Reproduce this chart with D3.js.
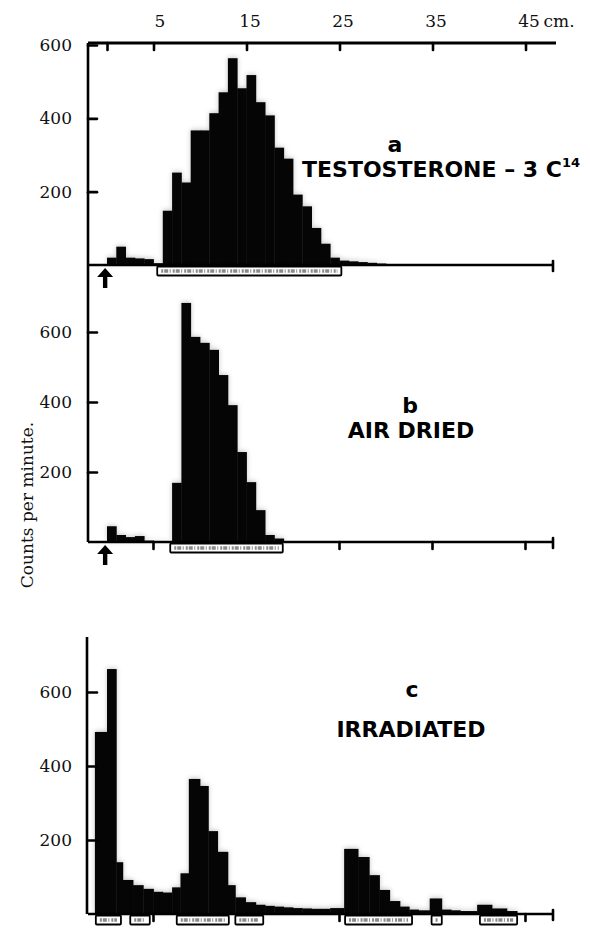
<!DOCTYPE html>
<html>
<head>
<meta charset="utf-8">
<script src="https://cdn.jsdelivr.net/npm/d3@7/dist/d3.min.js"></script>
<style>
  body { margin: 0; background: #fff; }
  svg { display: block; }
  .num { font-family: "DejaVu Serif", "Liberation Serif", serif; font-size: 17px; fill: #111; }
  .lbl { font-family: "DejaVu Sans", sans-serif; font-weight: bold; font-size: 22px; fill: #000; }
  .ax path { display: none; }
  .ax line { stroke: #000; stroke-width: 2.6; stroke-linecap: round; }
</style>
</head>
<body>
<svg id="vis" width="590" height="928"></svg>
<script>
"use strict";

// Data /////////////////////////////////////////////////////////////////////
var cmTicks = [0, 5, 15, 25, 35, 45];                 // distance along the strip, cm
var countTicks = [200, 400, 600];                     // counts per minute

// a: testosterone-3-C14, 1 cm sections
var aEdges  = [0,1,2,3,4,5,6,7,8,9,10,11,12,13,14,15,16,17,18,19,20,21,22,23,24,25,26,27,28,29,30];
var aCounts = [20,50,20,18,16,5,148,252,225,367,367,414,471,564,482,518,444,408,320,290,192,160,101,58,20,12,10,8,6,4];
var aStrips = [[5.4, 25.2]];

// b: air dried
var bEdges  = [0,1,2,3,4,5,6,7,8,9,10,11,12,13,14,15,16,17,18,19];
var bCounts = [45,20,14,17,4,2,2,169,683,586,569,549,477,391,257,171,91,20,10];
var bStrips = [[6.8, 18.9]];

// c: irradiated
var cEdges  = [-1.3,0,1,1.7,2.8,3.9,5,6,7,7.9,8.8,10,10.9,11.9,13,13.8,14.9,16,17,18,19,20,21,22,23,24,
               25.5,27,28.2,29.3,30.4,31.5,32.5,33.5,34.7,36,37,38,39.8,41.4,43,44.1];
var cCounts = [492,662,140,92,78,68,60,58,72,110,365,346,224,168,78,45,32,25,22,20,18,16,15,14,14,16,
               176,154,105,65,35,20,12,10,42,12,10,8,25,15,8];
var cStrips = [[-1.2,1.5],[2.5,4.6],[7.5,13.1],[13.8,16.8],[25.6,32.8],[34.9,36],[40.1,44.1]];

// Layout ////////////////////////////////////////////////////////////////////////////////////////
var vis = d3.select('#vis');
var x = d3.scaleLinear().domain([0, 45]).range([107, 525.5]);
var axisX = 88, rightEnd = 553, topY = 43;

// soft grey halo, like the halftone round the printed bars
vis.append('defs').append('filter').attr('id', 'halo').attr('x', '-10%').attr('y', '-10%')
  .attr('width', '120%').attr('height', '120%')
  .append('feGaussianBlur').attr('stdDeviation', 2.5);

var panels = [
  { edges: aEdges, counts: aCounts, strips: aStrips, base: 265, top600: 45,  arrow: true,  bottomTicks: false,
    letter: 'a', lx: 395, ly: 152 },
  { edges: bEdges, counts: bCounts, strips: bStrips, base: 542, top600: 332, arrow: true,  bottomTicks: true,
    letter: 'b', lx: 410, ly: 413, name: 'AIR DRIED', nx: 411, ny: 438 },
  { edges: cEdges, counts: cCounts, strips: cStrips, base: 914, top600: 692, arrow: false, bottomTicks: true,
    letter: 'c', lx: 412, ly: 697, name: 'IRRADIATED', nx: 411, ny: 737 }
];

// Top cm axis ///////////////////////////////////////////////////////////////////////////////////
vis.append('path').attr('d', 'M' + axisX + ',' + topY + 'H' + (rightEnd + 3))
  .attr('stroke', '#000').attr('stroke-width', 3);
var topAxis = vis.append('g').attr('class', 'ax').attr('transform', 'translate(0,' + topY + ')')
  .call(d3.axisTop(x).tickValues(cmTicks).tickSize(-7).tickPadding(16)
    .tickFormat(function(d) { return d === 0 ? '' : d }));
topAxis.selectAll('text').attr('class', 'num').attr('font-size', null).attr('font-family', null)
  .attr('dx', function(d) { return d === 5 ? 6 : 3 });
vis.append('text').attr('class', 'num').attr('x', x(45) + 18).attr('y', topY - 16).text('cm.');

// Left axes (a and b share one line) ////////////////////////////////////////////////////////////
vis.append('path').attr('d', 'M' + axisX + ',' + topY + 'V' + panels[1].base)
  .attr('stroke', '#000').attr('stroke-width', 2.6);
vis.append('path').attr('d', 'M' + (axisX - 1) + ',637V' + panels[2].base)
  .attr('stroke', '#000').attr('stroke-width', 2.6);

vis.append('text').attr('class', 'num').attr('font-size', 16)
  .attr('transform', 'translate(33,505) rotate(-90)').attr('text-anchor', 'middle')
  .text('Counts per minute.');

// Panels ////////////////////////////////////////////////////////////////////////////////////////
panels.forEach(function(p) {
  var y = d3.scaleLinear().domain([0, 600]).range([p.base, p.top600]);
  var g = vis.append('g');

  var bins = p.counts.map(function(c, i) { return { x0: p.edges[i], x1: p.edges[i + 1], c: c } });

  function bars(sel) {
    sel.selectAll('rect').data(bins).join('rect')
      .attr('x', function(d) { return x(d.x0) })
      .attr('width', function(d) { return x(d.x1) - x(d.x0) + 0.4 })
      .attr('y', function(d) { return y(d.c) })
      .attr('height', function(d) { return p.base - y(d.c) });
  }
  g.append('g').attr('fill', '#9a9a9a').attr('opacity', 0.55).attr('filter', 'url(#halo)')
    .attr('transform', 'translate(0,-1)').call(bars);
  g.append('g').attr('fill', '#050505').call(bars);

  // count ticks
  var ya = g.append('g').attr('class', 'ax').attr('transform', 'translate(' + axisX + ',0)')
    .call(d3.axisLeft(y).tickValues(countTicks).tickSize(-9).tickPadding(16));
  ya.selectAll('text').attr('class', 'num').attr('font-size', null).attr('font-family', null);

  // base line
  g.append('path').attr('d', 'M' + axisX + ',' + p.base + 'H' + rightEnd)
    .attr('stroke', '#000').attr('stroke-width', 2.6);
  g.append('path').attr('d', 'M' + rightEnd + ',' + (p.base - 4) + 'V' + (p.base + 6))
    .attr('stroke', '#000').attr('stroke-width', 2.6).attr('stroke-linecap', 'round');
  if (p.bottomTicks) {
    g.append('g').selectAll('line').data(cmTicks.slice(1)).join('line')
      .attr('x1', function(d) { return x(d) }).attr('x2', function(d) { return x(d) })
      .attr('y1', p.base).attr('y2', p.base + 7)
      .attr('stroke', '#000').attr('stroke-width', 2.6).attr('stroke-linecap', 'round');
  }

  // paper strip sections
  var st = g.append('g').selectAll('g').data(p.strips).join('g');
  st.append('rect')
    .attr('x', function(d) { return x(d[0]) }).attr('width', function(d) { return x(d[1]) - x(d[0]) })
    .attr('y', p.base + 1.5).attr('height', 9).attr('rx', 1)
    .attr('fill', '#fff').attr('stroke', '#000').attr('stroke-width', 1.8);
  st.append('line')
    .attr('x1', function(d) { return x(d[0]) + 4 }).attr('x2', function(d) { return x(d[1]) - 4 })
    .attr('y1', p.base + 6).attr('y2', p.base + 6)
    .attr('stroke', '#8a8a8a').attr('stroke-width', 3.5).attr('stroke-dasharray', '2 1 4 1.5 1 2');

  // origin arrow
  if (p.arrow) {
    var ax0 = x(-0.2), b = p.base;
    g.append('path')
      .attr('d', 'M' + ax0 + ',' + (b + 3) + 'L' + (ax0 + 8) + ',' + (b + 12) + 'H' + (ax0 + 2.2) +
                 'V' + (b + 23) + 'H' + (ax0 - 2.2) + 'V' + (b + 12) + 'H' + (ax0 - 8) + 'Z')
      .attr('fill', '#000');
  }

  // lettering
  g.append('text').attr('class', 'lbl').attr('x', p.lx).attr('y', p.ly).attr('text-anchor', 'middle').text(p.letter);
  if (p.name) {
    g.append('text').attr('class', 'lbl').attr('x', p.nx).attr('y', p.ny).attr('text-anchor', 'middle').text(p.name);
  }
});

var tName = vis.append('text').attr('class', 'lbl').attr('x', 302).attr('y', 177);
tName.append('tspan').text('TESTOSTERONE \u2013 3 C');
tName.append('tspan').attr('font-size', 13).attr('dy', -10).text('14');
</script>
</body>
</html>
